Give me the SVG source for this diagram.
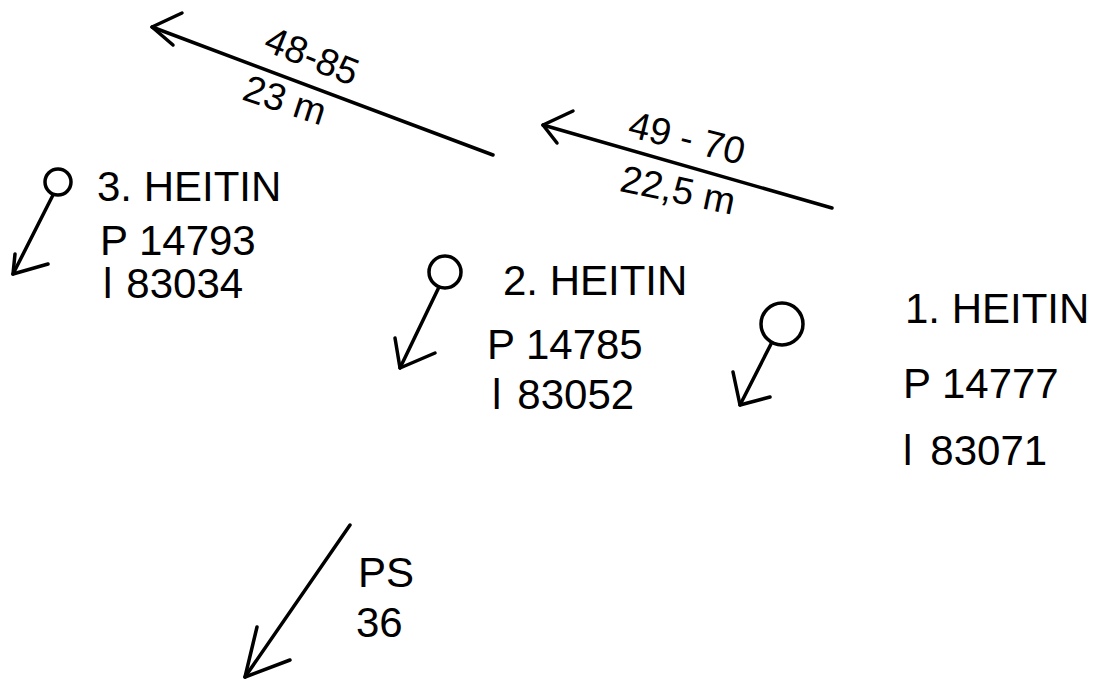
<svg xmlns="http://www.w3.org/2000/svg" width="1106" height="681" viewBox="0 0 1106 681">
  <style>
    .ink { stroke: #000; stroke-width: 3.5; fill: none; stroke-linecap: round; stroke-linejoin: round; }
    .lbl { font-family: "Liberation Sans", Arial, sans-serif; font-size: 42px; fill: #000; }
    .dim { font-family: "Liberation Sans", Arial, sans-serif; font-size: 38px; fill: #000; text-anchor: middle; dominant-baseline: central; }
  </style>

  <g id="connectors">
    <!-- flow direction 48-85 -->
    <g id="pipe-48-85">
      <path class="ink" d="M493,155 L152,27"/>
      <path class="ink" d="M182,13 L152,27 L173,45"/>
      <text class="dim" transform="translate(312,56) rotate(22)">48-85</text>
      <text class="dim" transform="translate(285,100) rotate(18)">23 m</text>
    </g>
    <!-- flow direction 49-70 -->
    <g id="pipe-49-70">
      <path class="ink" d="M832,208 L543,125"/>
      <path class="ink" d="M573,111 L543,125 L557,143"/>
      <text class="dim" transform="translate(687,138) rotate(14)">49 - 70</text>
      <text class="dim" transform="translate(678,190) rotate(12)">22,5 m</text>
    </g>
    <!-- PS 36 -->
    <g id="ps-36">
      <path class="ink" d="M350,525 L245,677"/>
      <path class="ink" d="M257,627 L245,677 L290,660"/>
      <text class="lbl" x="358" y="587">PS</text>
      <text class="lbl" x="356" y="637">36</text>
    </g>
  </g>

  <g id="node-3">
    <circle class="ink" cx="58" cy="182" r="13"/>
    <path class="ink" d="M53,195 L13,274"/>
    <path class="ink" d="M15,254 L13,274 L48,264"/>
    <text class="lbl" x="97" y="201">3. HEITIN</text>
    <text class="lbl" x="100" y="255">P 14793</text>
    <text class="lbl" x="103" y="298">l<tspan dx="14">83034</tspan></text>
  </g>

  <g id="node-2">
    <circle class="ink" cx="445" cy="272" r="16"/>
    <path class="ink" d="M439,287 L400,368"/>
    <path class="ink" d="M395,338 L400,368 L435,353"/>
    <text class="lbl" x="503" y="295">2. HEITIN</text>
    <text class="lbl" x="487" y="359">P 14785</text>
    <text class="lbl" x="492" y="409">l<tspan dx="16">83052</tspan></text>
  </g>

  <g id="node-1">
    <circle class="ink" cx="782" cy="324" r="21"/>
    <path class="ink" d="M771,344 L740,405"/>
    <path class="ink" d="M733,372 L740,405 L770,397"/>
    <text class="lbl" x="905" y="323">1. HEITIN</text>
    <text class="lbl" x="903" y="398">P 14777</text>
    <text class="lbl" x="903" y="465">l<tspan dx="18">83071</tspan></text>
  </g>
</svg>
